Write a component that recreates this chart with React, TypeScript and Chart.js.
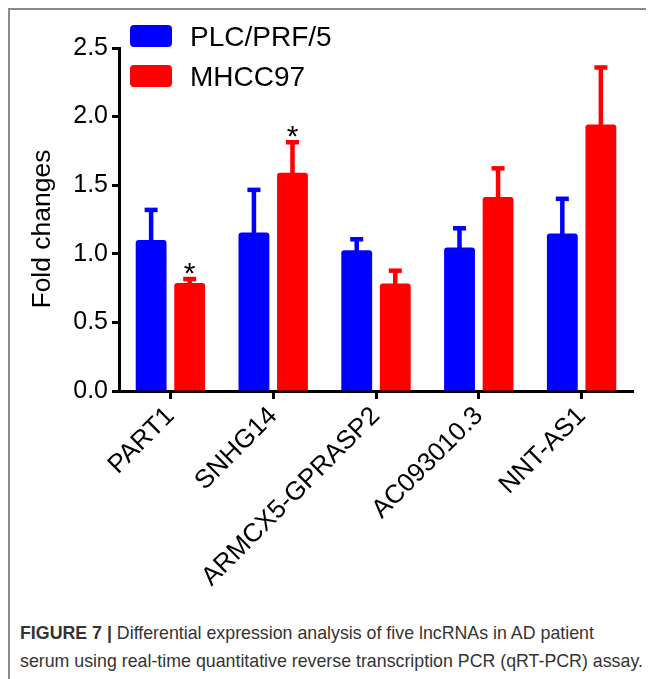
import React, { useEffect, useRef } from "react";
import { Chart, registerables } from "chart.js";

Chart.register(...registerables);

const categories = ["PART1", "SNHG14", "ARMCX5-GPRASP2", "AC093010.3", "NNT-AS1"];
const seriesNames = ["PLC/PRF/5", "MHCC97"];
const seriesColors = ["#0000ff", "#ff0000"];
const plcValues = [1.1, 1.155, 1.026, 1.046, 1.148];
const plcErrorTops = [1.32, 1.466, 1.106, 1.186, 1.401];
const mhccValues = [0.788, 1.59, 0.784, 1.414, 1.943];
const mhccErrorTops = [0.816, 1.813, 0.877, 1.623, 2.358];
const mhccStars = ["*", "*", "", "", ""];
const yTicks = [0, 0.5, 1, 1.5, 2, 2.5];
const yTitle = "Fold changes";

const FONT = '"Liberation Sans", Arial, Helvetica, sans-serif';

const errorTops = [plcErrorTops, mhccErrorTops];
const stars = [["", "", "", "", ""], mhccStars];

const errorBarPlugin = {
  id: "errorBars",
  afterDatasetsDraw(chart: any) {
    const ctx = chart.ctx;
    const yScale = chart.scales.y;
    chart.data.datasets.forEach((ds: any, d: number) => {
      const meta = chart.getDatasetMeta(d);
      meta.data.forEach((bar: any, i: number) => {
        const x = bar.x;
        const yTop = bar.y;
        const yErr = yScale.getPixelForValue(errorTops[d][i]);
        ctx.save();
        ctx.fillStyle = ds.backgroundColor;
        const sw = 4.5;
        ctx.fillRect(x - sw / 2, yErr, sw, yTop - yErr + 2);
        const cw = 13;
        const ch = 4.5;
        ctx.fillRect(x - cw / 2, yErr - ch / 2, cw, ch);
        const s = stars[d][i];
        if (s) {
          ctx.fillStyle = "#000";
          ctx.font = `30px ${FONT}`;
          ctx.textAlign = "center";
          ctx.textBaseline = "alphabetic";
          ctx.fillText(s, x, yErr - ch / 2 + 6);
        }
        ctx.restore();
      });
    });
  },
};

const legendTitlePlugin = {
  id: "customLegendTitle",
  afterDraw(chart: any) {
    const ctx = chart.ctx;
    ctx.save();
    seriesNames.forEach((name, i) => {
      const bx = 120;
      const by = 15 + i * 40;
      ctx.fillStyle = seriesColors[i];
      ctx.beginPath();
      (ctx as any).roundRect(bx, by, 42, 22, 4);
      ctx.fill();
      ctx.fillStyle = "#000";
      ctx.font = `28px ${FONT}`;
      ctx.textAlign = "left";
      ctx.textBaseline = "alphabetic";
      ctx.fillText(name, 180, 36 + i * 40);
    });
    ctx.translate(33, 219);
    ctx.rotate(-Math.PI / 2);
    ctx.font = `26.5px ${FONT}`;
    ctx.textAlign = "center";
    ctx.textBaseline = "middle";
    ctx.fillStyle = "#000";
    ctx.fillText(yTitle, 0, 0);
    ctx.restore();
  },
};

export default function App() {
  const canvasRef = useRef<HTMLCanvasElement | null>(null);

  useEffect(() => {
    if (!canvasRef.current) return;
    const chart = new Chart(canvasRef.current, {
      type: "bar",
      data: {
        labels: categories,
        datasets: [
          {
            label: seriesNames[0],
            data: plcValues,
            backgroundColor: seriesColors[0],
            borderRadius: 3,
            categoryPercentage: 0.75,
            barPercentage: 0.8,
          },
          {
            label: seriesNames[1],
            data: mhccValues,
            backgroundColor: seriesColors[1],
            borderRadius: 3,
            categoryPercentage: 0.75,
            barPercentage: 0.8,
          },
        ],
      },
      options: {
        responsive: false,
        animation: false,
        events: [],
        layout: { padding: { left: 0, right: 21, top: 38, bottom: 0 } },
        plugins: {
          legend: { display: false },
          tooltip: { enabled: false },
          title: { display: false },
        },
        scales: {
          x: {
            afterFit: (s: any) => {
              s.height = 219;
            },
            grid: {
              drawOnChartArea: false,
              offset: false,
              tickLength: 8,
              tickWidth: 3,
              tickColor: "#000",
            },
            border: { display: true, color: "#000", width: 3 },
            ticks: {
              font: { family: FONT, size: 26 },
              color: "#000",
              minRotation: 45,
              maxRotation: 45,
              padding: 2,
              autoSkip: false,
            },
          },
          y: {
            min: 0,
            max: 2.5,
            afterFit: (s: any) => {
              s.width = 109;
            },
            afterBuildTicks: (s: any) => {
              s.ticks = yTicks.map((v) => ({ value: v }));
            },
            grid: {
              drawOnChartArea: false,
              tickLength: 7,
              tickWidth: 3,
              tickColor: "#000",
            },
            border: { display: true, color: "#000", width: 3 },
            ticks: {
              font: { family: FONT, size: 25 },
              color: "#000",
              padding: 4,
              callback: (v: any) => Number(v).toFixed(1),
            },
          },
        },
      },
      plugins: [errorBarPlugin, legendTitlePlugin],
    });
    return () => chart.destroy();
  }, []);

  return (
    <div
      style={{
        position: "relative",
        width: 646,
        height: 671,
        borderLeft: "2px solid #8a8a8a",
        borderTop: "2px solid #8a8a8a",
        boxSizing: "border-box",
        background: "#fff",
      }}
    >
      <canvas
        ref={canvasRef}
        width={644}
        height={600}
        style={{ position: "absolute", left: 0, top: 0, width: 644, height: 600 }}
      />
      <div
        style={{
          position: "absolute",
          left: 10,
          top: 609,
          width: 640,
          fontFamily: FONT,
          fontSize: 17.8,
          lineHeight: "28px",
          color: "#333",
          whiteSpace: "nowrap",
        }}
      >
        <div>
          <b>FIGURE 7 |</b> Differential expression analysis of five lncRNAs in AD patient
        </div>
        <div>serum using real-time quantitative reverse transcription PCR (qRT-PCR) assay.</div>
      </div>
    </div>
  );
}
